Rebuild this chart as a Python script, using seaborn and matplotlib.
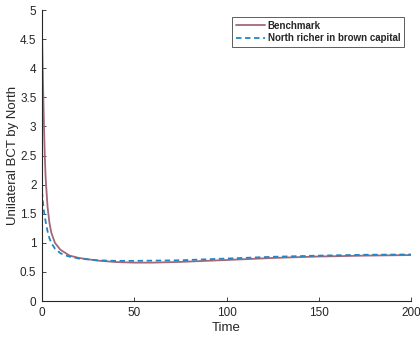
import numpy as np
import pandas as pd
import matplotlib
matplotlib.use("Agg")
import matplotlib.pyplot as plt
import seaborn as sns

# Unilateral border carbon tax set by North over time
time_bench = [0, 0.5, 1, 1.5, 2, 3, 4, 5, 7, 10, 15, 20, 30, 40, 50, 60, 75, 100, 125, 150, 175, 200]
bct_bench = [4.63, 3.8, 3.1, 2.5, 2.1, 1.62, 1.35, 1.18, 1.0, 0.88, 0.78, 0.74, 0.695, 0.67, 0.66, 0.66, 0.672, 0.705, 0.74, 0.765, 0.78, 0.79]

time_rich = [0, 0.5, 1, 1.5, 2, 3, 4, 5, 7, 10, 14, 20, 25, 30, 40, 50, 75, 100, 125, 150, 175, 200]
bct_rich = [1.88, 1.7, 1.56, 1.45, 1.36, 1.2, 1.08, 1.0, 0.9, 0.82, 0.77, 0.73, 0.715, 0.70, 0.69, 0.69, 0.70, 0.73, 0.76, 0.78, 0.795, 0.80]

labels = ["Benchmark", "North richer in brown capital"]
colors = ["#a26878", "#2386c4"]

df = pd.concat([
    pd.DataFrame({"Time": time_bench, "BCT": bct_bench, "Scenario": labels[0]}),
    pd.DataFrame({"Time": time_rich, "BCT": bct_rich, "Scenario": labels[1]}),
])

sns.set_style("ticks")
plt.rcParams["font.family"] = ["Liberation Sans", "DejaVu Sans"]

fig = plt.figure(figsize=(4.2, 3.39), dpi=100)
ax = fig.add_axes([0.1, 0.112, 0.879, 0.8585])

sns.lineplot(data=df, x="Time", y="BCT", hue="Scenario", style="Scenario",
             hue_order=labels, style_order=labels, palette=colors,
             dashes={labels[0]: "", labels[1]: (3, 2)},
             linewidth=1.3, ax=ax)

ax.set_xlim(0, 200)
ax.set_ylim(0, 5)
ax.set_xticks([0, 50, 100, 150, 200])
ax.set_yticks(np.arange(0, 5.01, 0.5))
ax.set_yticklabels(["0", "0.5", "1", "1.5", "2", "2.5", "3", "3.5", "4", "4.5", "5"])
ax.set_xlabel("Time", fontsize=9.5, color="#262626", labelpad=2.5)
ax.set_ylabel("Unilateral BCT by North", fontsize=9.5, color="#262626", labelpad=1)
ax.tick_params(direction="in", length=3, width=0.6, labelsize=8.5, colors="#262626", pad=4)
for s in ["top", "right"]:
    ax.spines[s].set_visible(False)
for s in ["left", "bottom"]:
    ax.spines[s].set_linewidth(0.8)
    ax.spines[s].set_color("#262626")

leg = ax.legend(loc="upper right", bbox_to_anchor=(0.981, 0.977),
                prop={"weight": "bold", "size": 7}, frameon=True, fancybox=False,
                handlelength=3.0, handletextpad=0.25, borderpad=0.4, labelspacing=0.3,
                edgecolor="#333333", borderaxespad=0.0)
leg.get_frame().set_linewidth(0.7)

fig.savefig("out.png", dpi=100)
